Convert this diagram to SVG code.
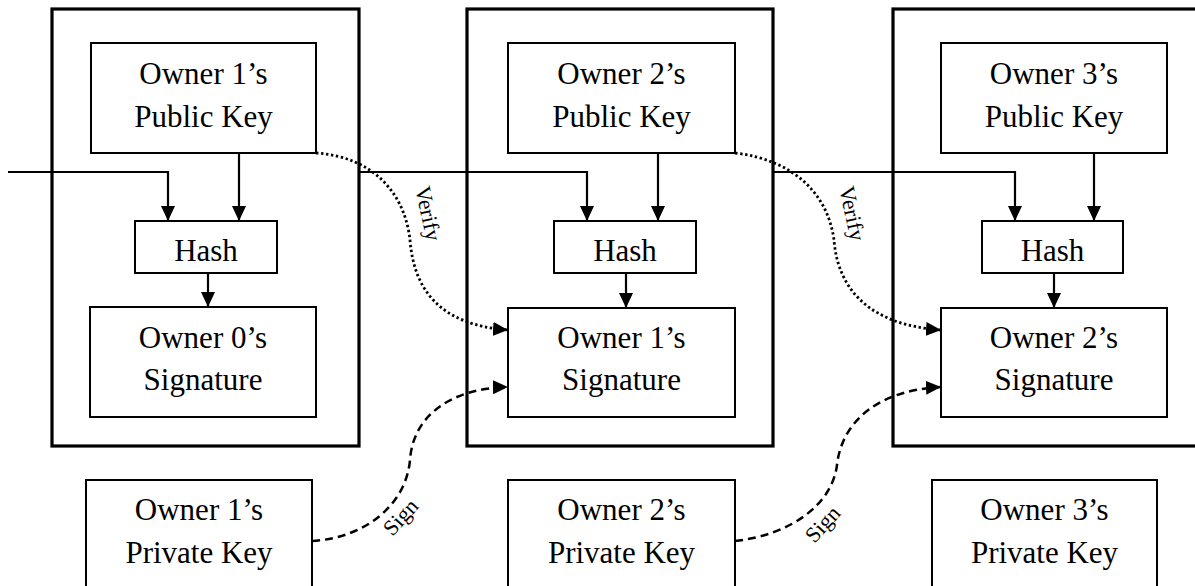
<svg xmlns="http://www.w3.org/2000/svg" width="1195" height="586" viewBox="0 0 1195 586">
  <style>
    .outer { fill: none; stroke: #000; stroke-width: 3.2; }
    .box { fill: #fff; stroke: #000; stroke-width: 2; }
    .lbl { font-family: "Liberation Serif", "Times New Roman", serif; font-size: 31px; fill: #000; text-anchor: middle; }
    .small { font-family: "Liberation Serif", "Times New Roman", serif; font-size: 22px; fill: #000; text-anchor: middle; }
    .wire { fill: none; stroke: #000; stroke-width: 2.2; }
    .verify { fill: none; stroke: #000; stroke-width: 2.8; stroke-dasharray: 2.4 2.6; }
    .sign { fill: none; stroke: #000; stroke-width: 2.5; stroke-dasharray: 8 5; }
  </style>
  <defs>
    <marker id="arrow" viewBox="0 0 15 14" refX="15" refY="7" markerWidth="15" markerHeight="14" markerUnits="userSpaceOnUse" orient="auto">
      <path d="M0,0 L15,7 L0,14 Z" fill="#000"/>
    </marker>
  </defs>
  <rect width="1195" height="586" fill="#fff"/>

  <!-- transaction frames -->
  <g id="tx1"><rect class="outer" x="52" y="9" width="307" height="437"/></g>
  <g id="tx2"><rect class="outer" x="467" y="9" width="306" height="437"/></g>
  <g id="tx3"><rect class="outer" x="893" y="9" width="320" height="437"/></g>

  <!-- connectors -->
  <g id="connectors">
    <!-- previous transaction chain into each hash -->
    <path class="wire" d="M8,172 H168 V221" marker-end="url(#arrow)"/>
    <path class="wire" d="M359,172 H587 V221" marker-end="url(#arrow)"/>
    <path class="wire" d="M773,172 H1015 V221" marker-end="url(#arrow)"/>
    <!-- public key into hash -->
    <path class="wire" d="M239,153 V221" marker-end="url(#arrow)"/>
    <path class="wire" d="M658,153 V221" marker-end="url(#arrow)"/>
    <path class="wire" d="M1094,153 V221" marker-end="url(#arrow)"/>
    <!-- hash into signature -->
    <path class="wire" d="M208,273 V307" marker-end="url(#arrow)"/>
    <path class="wire" d="M626,273 V308" marker-end="url(#arrow)"/>
    <path class="wire" d="M1054,273 V308" marker-end="url(#arrow)"/>
    <!-- verify -->
    <path class="verify" d="M316,153 C375,157 405,195 410,240 C414,290 440,325 508,330" marker-end="url(#arrow)"/>
    <path class="verify" d="M735,153 C795,160 828,195 834,240 C838,290 870,325 941,330" marker-end="url(#arrow)"/>
    <!-- sign -->
    <path class="sign" d="M312,541 C365,538 406,505 410,460 C413,415 452,388 508,387" marker-end="url(#arrow)"/>
    <path class="sign" d="M735,541 C790,535 832,505 837,465 C842,420 880,390 941,387" marker-end="url(#arrow)"/>
    <text class="small" transform="translate(421,215) rotate(78)">Verify</text>
    <text class="small" transform="translate(845,215) rotate(78)">Verify</text>
    <text class="small" transform="translate(406,522) rotate(-48)">Sign</text>
    <text class="small" transform="translate(828,529) rotate(-48)">Sign</text>
  </g>

  <!-- column 1 -->
  <g id="pub1"><rect class="box" x="91" y="43" width="225" height="110"/>
    <text class="lbl" x="203.5" y="84">Owner 1’s</text><text class="lbl" x="203.5" y="127">Public Key</text></g>
  <g id="hash1"><rect class="box" x="135" y="221" width="142" height="52"/>
    <text class="lbl" x="206" y="261">Hash</text></g>
  <g id="sig0"><rect class="box" x="90" y="307" width="226" height="110"/>
    <text class="lbl" x="203" y="348">Owner 0’s</text><text class="lbl" x="203" y="390">Signature</text></g>
  <g id="priv1"><rect class="box" x="86" y="480" width="226" height="130"/>
    <text class="lbl" x="199" y="520">Owner 1’s</text><text class="lbl" x="199" y="563">Private Key</text></g>

  <!-- column 2 -->
  <g id="pub2"><rect class="box" x="508" y="43" width="227" height="110"/>
    <text class="lbl" x="621.5" y="84">Owner 2’s</text><text class="lbl" x="621.5" y="127">Public Key</text></g>
  <g id="hash2"><rect class="box" x="554" y="221" width="142" height="52"/>
    <text class="lbl" x="625" y="261">Hash</text></g>
  <g id="sig1"><rect class="box" x="508" y="308" width="227" height="109"/>
    <text class="lbl" x="621.5" y="348">Owner 1’s</text><text class="lbl" x="621.5" y="390">Signature</text></g>
  <g id="priv2"><rect class="box" x="508" y="480" width="227" height="130"/>
    <text class="lbl" x="621.5" y="520">Owner 2’s</text><text class="lbl" x="621.5" y="563">Private Key</text></g>

  <!-- column 3 -->
  <g id="pub3"><rect class="box" x="941" y="43" width="226" height="110"/>
    <text class="lbl" x="1054" y="84">Owner 3’s</text><text class="lbl" x="1054" y="127">Public Key</text></g>
  <g id="hash3"><rect class="box" x="982" y="221" width="141" height="52"/>
    <text class="lbl" x="1052.5" y="261">Hash</text></g>
  <g id="sig2"><rect class="box" x="941" y="308" width="226" height="109"/>
    <text class="lbl" x="1054" y="348">Owner 2’s</text><text class="lbl" x="1054" y="390">Signature</text></g>
  <g id="priv3"><rect class="box" x="932" y="480" width="225" height="130"/>
    <text class="lbl" x="1044.5" y="520">Owner 3’s</text><text class="lbl" x="1044.5" y="563">Private Key</text></g>
</svg>
